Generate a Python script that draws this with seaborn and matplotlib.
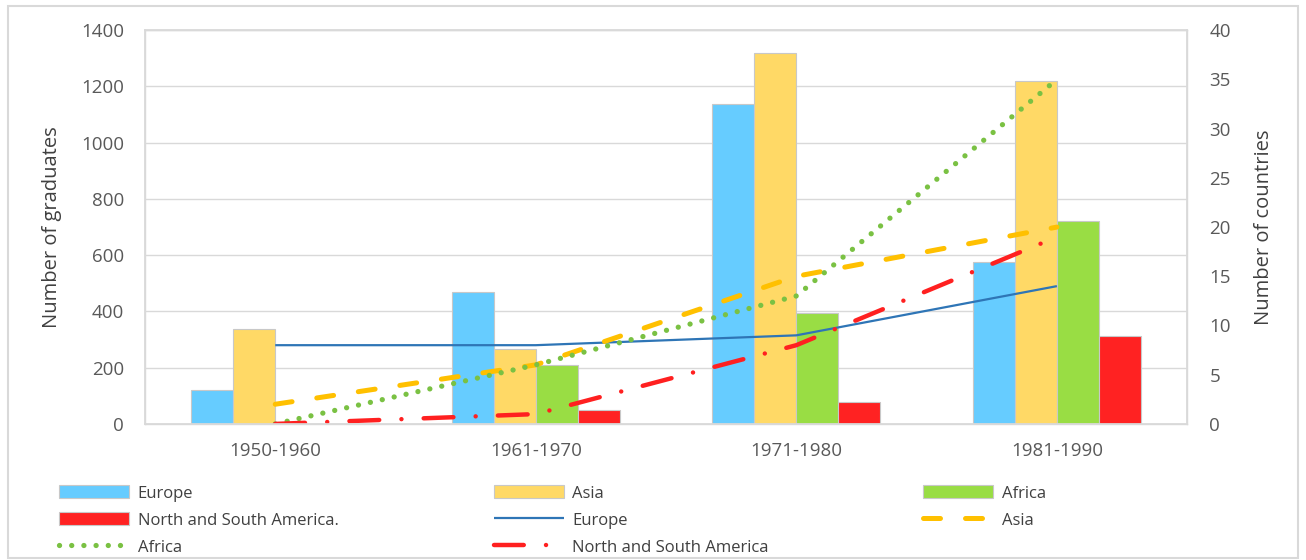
import numpy as np
import pandas as pd
import matplotlib
matplotlib.use("Agg")
import matplotlib.pyplot as plt
from matplotlib.patches import Rectangle
import seaborn as sns

# -----------------------------
# data
# -----------------------------
decades = ["1950-1960", "1961-1970", "1971-1980", "1981-1990"]
bar_regions = ["Europe", "Asia", "Africa", "North and South America."]

grads_europe = [120, 470, 1137, 576]
grads_asia = [338, 266, 1318, 1219]
grads_africa = [0, 210, 394, 722]
grads_america = [0, 50, 78, 313]

countries_europe = [8, 8, 9, 14]
countries_asia = [2, 6, 15, 20]
countries_africa = [0, 6, 13, 35]
countries_america = [0, 1, 8, 19]

bar_colors = ["#66CCFF", "#FFD966", "#99DD44", "#FF2222"]

# -----------------------------
# long table for seaborn
# -----------------------------
grads = [grads_europe, grads_asia, grads_africa, grads_america]
df = pd.DataFrame({
    "decade": np.tile(decades, len(bar_regions)),
    "region": np.repeat(bar_regions, len(decades)),
    "graduates": np.concatenate(grads),
})

sns.set_theme(style="white")
plt.rcParams["font.family"] = ["Open Sans", "DejaVu Sans"]

fig = plt.figure(figsize=(13.06, 5.6), dpi=100)
ax = fig.add_axes([0.111, 0.243, 0.798, 0.703])

sns.barplot(data=df, x="decade", y="graduates", hue="region",
            palette=bar_colors, saturation=1, width=0.645,
            edgecolor="#C8C8C8", linewidth=0.8, ax=ax, legend=True)

ax.set_ylim(0, 1400)
ax.set_yticks(range(0, 1401, 200))
ax.set_xlim(-0.5, 3.5)
ax.grid(axis="y", color="#D9D9D9", linewidth=1)
ax.set_axisbelow(True)
ax.set_xlabel("")
ax.set_ylabel("Number of graduates", fontsize=14.5, color="#404040", labelpad=14)
ax.tick_params(axis="y", labelsize=13.5, labelcolor="#595959", length=0, pad=15)
ax.tick_params(axis="x", labelsize=13.5, labelcolor="#595959", length=0, pad=13)
for s in ax.spines.values():
    s.set_color("#D9D9D9")
    s.set_linewidth(1)

# -----------------------------
# countries on the secondary axis
# -----------------------------
ax2 = ax.twinx()
xpos = np.arange(len(decades))
line_specs = [
    ("Europe", countries_europe, "#2E75B6", "-", 1.6),
    ("Asia", countries_asia, "#FFC000", (0, (3.4, 5.0)), 3.6),
    ("Africa", countries_africa, "#7AC143", (0, (0.01, 2.3)), 3.8),
    ("North and South America", countries_america, "#FF2020", (0, (6.7, 5, 0.01, 5)), 3.2),
]
for name, vals, col, ls, lw in line_specs:
    sns.lineplot(x=xpos, y=vals, color=col, linestyle=ls, linewidth=lw,
                 ax=ax2, label=name, dash_capstyle="round",
                 solid_capstyle="butt")

ax2.set_ylim(0, 40)
ax2.set_yticks(range(0, 41, 5))
ax2.set_xlim(-0.5, 3.5)
ax2.set_ylabel("Number of countries", fontsize=14.5, color="#404040", labelpad=17)
ax2.tick_params(axis="y", labelsize=13.5, labelcolor="#595959", length=0, pad=16)
ax2.grid(False)
for s in ax2.spines.values():
    s.set_color("#D9D9D9")

# -----------------------------
# combined legend below the chart
# -----------------------------
h1, l1 = ax.get_legend_handles_labels()
h2, l2 = ax2.get_legend_handles_labels()
ax.get_legend().remove()
ax2.get_legend().remove()
handles = h1 + h2
labels = l1 + l2
# column-major fill so the legend reads row by row
order = [0, 3, 6, 1, 4, 7, 2, 5]
fig.legend([handles[i] for i in order], [labels[i] for i in order],
           ncol=3, loc="upper left", bbox_to_anchor=(0.034, 0.16),
           frameon=False, fontsize=12, handlelength=4.2, handleheight=0.8,
           handletextpad=0.5, columnspacing=9.3, labelspacing=0.65,
           labelcolor="#404040")

fig.patches.append(Rectangle((0.006, 0.004), 0.988, 0.986, transform=fig.transFigure,
                             fill=False, edgecolor="#D9D9D9", linewidth=1.5))

plt.savefig("out.png", dpi=100)
